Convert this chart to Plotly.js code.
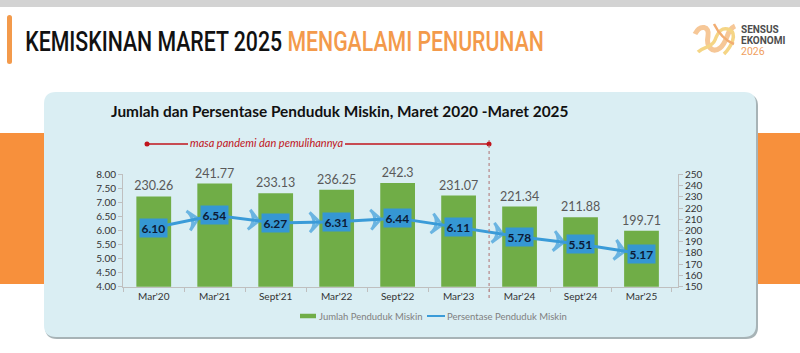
<!DOCTYPE html>
<html><head><meta charset="utf-8">
<script src="https://cdn.plot.ly/plotly-3.0.1.min.js"></script>
<style>html,body{margin:0;padding:0;background:#fff}#chart{width:800px;height:353px}</style>
</head><body><div id="chart"></div>
<script>
// ---- data ----
const categories = ["Mar'20","Mar'21","Sept'21","Mar'22","Sept'22","Mar'23","Mar'24","Sept'24","Mar'25"];
const jumlahMiskin = [230.26, 241.77, 233.13, 236.25, 242.3, 231.07, 221.34, 211.88, 199.71];
const persenMiskin = [6.10, 6.54, 6.27, 6.31, 6.44, 6.11, 5.78, 5.51, 5.17];
const jumlahLabels = ["230.26","241.77","233.13","236.25","242.3","231.07","221.34","211.88","199.71"];
const persenLabels = ["6.10","6.54","6.27","6.31","6.44","6.11","5.78","5.51","5.17"];
const leftTicks = [4,4.5,5,5.5,6,6.5,7,7.5,8];
const rightTicks = [150,160,170,180,190,200,210,220,230,240,250];
const seriesNames = ["Jumlah Penduduk Miskin", "Persentase Penduduk Miskin"];

const W = 800, H = 353;
const px = x => x / W;
const py = y => 1 - y / H;
const GREEN = '#70ad47', BLUE = '#3a9bd8';

function roundRect(x0, y0, x1, y1, r) {
  const a = px(x0), b = px(x1), c = py(y0), d = py(y1);
  const rx = r / W, ry = r / H;
  return `M${a+rx},${c} L${b-rx},${c} Q${b},${c} ${b},${c-ry} L${b},${d+ry} Q${b},${d} ${b-rx},${d} L${a+rx},${d} Q${a},${d} ${a},${d+ry} L${a},${c-ry} Q${a},${c} ${a+rx},${c} Z`;
}
function pathPx(pts) {
  return pts.replace(/(-?\d+\.?\d*),(-?\d+\.?\d*)/g, (m, x, y) => `${px(+x)},${py(+y)}`);
}

const shapes = [
  {type:'rect', xref:'paper', yref:'paper', x0:0, x1:1, y0:py(7), y1:1, fillcolor:'#d3d3d3', line:{width:0}, layer:'below'},
  {type:'path', xref:'paper', yref:'paper', path: roundRect(7,15,12,64,2.5), fillcolor:'#f39a4b', line:{width:0}, layer:'below'},
  {type:'rect', xref:'paper', yref:'paper', x0:0, x1:px(46), y0:py(284), y1:py(133), fillcolor:'#f7903c', line:{width:0}, layer:'below'},
  {type:'rect', xref:'paper', yref:'paper', x0:px(754), x1:1, y0:py(284), y1:py(133), fillcolor:'#f7903c', line:{width:0}, layer:'below'},
  {type:'path', xref:'paper', yref:'paper', path: roundRect(45,94,758,339,12), fillcolor:'#a7b3b6', line:{width:0}, layer:'below'},
  {type:'path', xref:'paper', yref:'paper', path: roundRect(44,92,756,337,12), fillcolor:'#daeef3', line:{width:0}, layer:'below'},
  {type:'line', xref:'paper', yref:'paper', x0:px(147), x1:px(188), y0:py(144), y1:py(144), line:{color:'#c0141c', width:1.5}},
  {type:'line', xref:'paper', yref:'paper', x0:px(345), x1:px(489), y0:py(144), y1:py(144), line:{color:'#c0141c', width:1.5}},
  {type:'circle', xref:'paper', yref:'paper', x0:px(144.5), x1:px(149.5), y0:py(146.5), y1:py(141.5), fillcolor:'#c0141c', line:{width:0}},
  {type:'circle', xref:'paper', yref:'paper', x0:px(486.5), x1:px(491.5), y0:py(146.5), y1:py(141.5), fillcolor:'#c0141c', line:{width:0}},
  {type:'line', xref:'x', yref:'paper', x0:5.5, x1:5.5, y0:py(298), y1:py(140), line:{color:'#b07070', width:1, dash:'dot'}},
  // legend symbols
  {type:'line', xref:'paper', yref:'paper', x0:px(300), x1:px(316), y0:py(316), y1:py(316), line:{color:GREEN, width:4.5}},
  {type:'line', xref:'paper', yref:'paper', x0:px(427), x1:px(445), y0:py(316), y1:py(316), line:{color:BLUE, width:2}},
  // logo ribbons
  {type:'path', xref:'paper', yref:'paper', path: pathPx('M695,34 C700,24 710,26 708,36 C706,46 712,54 720,48 C728,42 726,30 735,26'), line:{color:'#f6c797', width:5}, fillcolor:'rgba(0,0,0,0)'},
  {type:'path', xref:'paper', yref:'paper', path: pathPx('M698,52 C704,46 712,48 715,40 C718,32 722,26 730,30 C737,34 732,46 724,54'), line:{color:'#f5d585', width:3.5}, fillcolor:'rgba(0,0,0,0)'},
  {type:'path', xref:'paper', yref:'paper', path: pathPx('M714,24 C718,32 724,40 734,44'), line:{color:'#f2ad72', width:2.5}, fillcolor:'rgba(0,0,0,0)'}
];

const annotations = [
  {xref:'paper', yref:'paper', x:px(23), y:py(41.5), xanchor:'left', yanchor:'middle', showarrow:false,
   text:'KEMISKINAN MARET 2025 <span style="color:#f39a4b">MENGALAMI PENURUNAN</span>',
   font:{family:'Roboto, sans-serif', size:27, weight:500, color:'#111'}},
  {xref:'paper', yref:'paper', x:px(739), y:py(30), xanchor:'left', yanchor:'middle', showarrow:false, text:'<b>SENSUS</b>', font:{family:'Roboto, sans-serif', size:10, color:'#4d4d4d'}},
  {xref:'paper', yref:'paper', x:px(739), y:py(41), xanchor:'left', yanchor:'middle', showarrow:false, text:'<b>EKONOMI</b>', font:{family:'Roboto, sans-serif', size:10, color:'#4d4d4d'}},
  {xref:'paper', yref:'paper', x:px(739), y:py(52), xanchor:'left', yanchor:'middle', showarrow:false, text:'2026', font:{family:'Roboto, sans-serif', size:10.5, color:'#f0a060'}},
  {xref:'paper', yref:'paper', x:px(340), y:py(111), xanchor:'center', yanchor:'middle', showarrow:false,
   text:'<b>Jumlah dan Persentase Penduduk Miskin, Maret 2020 -Maret 2025</b>', font:{family:'Lato, sans-serif', size:15.4, color:'#111'}},
  {xref:'paper', yref:'paper', x:px(266), y:py(143), xanchor:'center', yanchor:'middle', showarrow:false,
   text:'<i>masa pandemi dan pemulihannya</i>', font:{family:'Lato, sans-serif', size:11, color:'#c0141c'}},
  {xref:'paper', yref:'paper', x:px(317), y:py(316), xanchor:'left', yanchor:'middle', showarrow:false, text:seriesNames[0], font:{family:'Lato, sans-serif', size:9.5, color:'#808080'}},
  {xref:'paper', yref:'paper', x:px(445), y:py(316), xanchor:'left', yanchor:'middle', showarrow:false, text:seriesNames[1], font:{family:'Lato, sans-serif', size:9.5, color:'#808080'}}
];
persenMiskin.forEach((v, i) => {
  annotations.push({xref:'x', yref:'y2', x:categories[i], y:v, showarrow:false, text:'<b>'+persenLabels[i]+'</b>',
    bgcolor:'#3597d3', borderpad:1.5, font:{family:'Lato, sans-serif', size:12, color:'#0c1a36'}});
});

const barTrace = {
  type:'bar', name:seriesNames[0], x:categories, y:jumlahMiskin, yaxis:'y', xaxis:'x',
  marker:{color:GREEN}, text:jumlahLabels, textposition:'outside', cliponaxis:false, constraintext:'none',
  textfont:{family:'Lato, sans-serif', size:12.5, color:'#595959'}, hoverinfo:'skip', showlegend:false
};
const lineTrace = {
  type:'scatter', mode:'lines+markers', name:seriesNames[1], x:categories, y:persenMiskin, yaxis:'y2', xaxis:'x',
  line:{color:BLUE, width:3}, cliponaxis:false, showlegend:false,
  marker:{symbol:'arrow-wide-open', angleref:'previous', size:persenMiskin.map((v,i)=> i===0?0:14), standoff:17,
    color:BLUE, line:{color:BLUE, width:3}},
  hoverinfo:'skip'
};

const tickFont = {family:'Lato, sans-serif', size:10, color:'#333'};
const layout = {
  width:W, height:H, margin:{l:0,r:0,t:0,b:0}, paper_bgcolor:'#fff', plot_bgcolor:'rgba(0,0,0,0)',
  showlegend:false, bargap:0.43,
  xaxis:{domain:[px(123), px(678)], type:'category', showline:true, linecolor:'#bfbfbf', ticks:'outside', tickson:'boundaries', ticklen:4, tickcolor:'#bfbfbf', tickfont:tickFont, showgrid:false, fixedrange:true},
  yaxis:{domain:[py(286.7), py(174.3)], range:[150,250], side:'right', tickvals:rightTicks, ticktext:rightTicks.map(String), showline:true, linecolor:'#bfbfbf', ticks:'outside', ticklen:4, tickcolor:'#bfbfbf', tickfont:tickFont, showgrid:false, zeroline:false, fixedrange:true},
  yaxis2:{overlaying:'y', side:'left', range:[4,8], tickvals:leftTicks, ticktext:leftTicks.map(v=>v.toFixed(2)), showline:true, linecolor:'#bfbfbf', ticks:'outside', ticklen:4, tickcolor:'#bfbfbf', tickfont:tickFont, showgrid:false, zeroline:false, fixedrange:true},
  shapes, annotations, font:{family:'Lato, sans-serif'}
};
Plotly.newPlot('chart', [barTrace, lineTrace], layout, {displayModeBar:false, staticPlot:true}).then(gd => {
  // condense the header text horizontally (reference uses a condensed face)
  const t = gd.querySelectorAll('.annotation')[0];
  if (t) {
    const txt = t.querySelector('text.annotation-text');
    if (txt) {
      const bb = txt.getBBox();
      const target = 519;
      const s = target / bb.width;
      txt.style.transformBox = 'fill-box';
      txt.style.transformOrigin = 'left center';
      txt.style.transform = 'scaleX(' + s + ')';
    }
  }
});
</script></body></html>
